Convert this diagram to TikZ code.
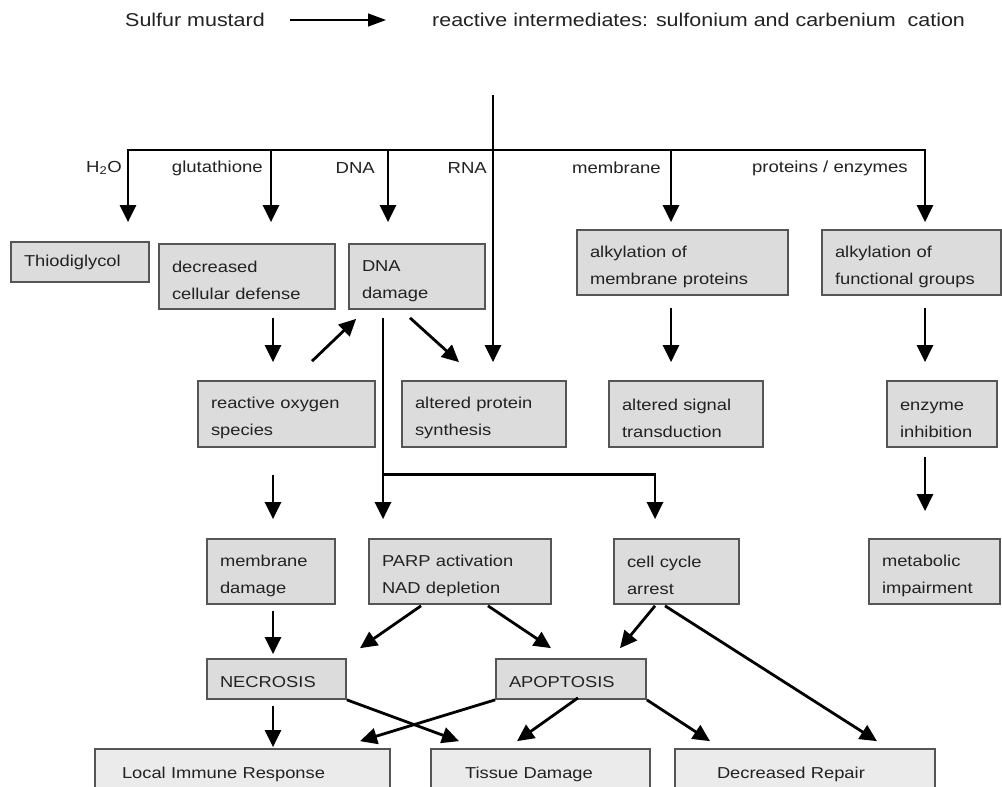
\documentclass[tikz,border=0pt]{standalone}
\usepackage{fontspec}
\setmainfont{Liberation Sans}[FakeStretch=1.16]
\usetikzlibrary{arrows.meta,calc}
\definecolor{boxfill}{HTML}{DCDCDC}
\definecolor{boxfillb}{HTML}{EBEBEB}
\definecolor{edge}{HTML}{555555}
\definecolor{ink}{HTML}{222222}
\newcommand\firstline{\rule{0pt}{19.5pt}}
\begin{document}
\begin{tikzpicture}[x=1pt,y=-1pt,
 box/.style={draw=edge,line width=1.7pt,fill=boxfill,inner xsep=13pt,inner ysep=0pt,align=left,text=ink,font=\fontsize{15.8}{27}\selectfont},
 arr/.style={line width=2.8pt,-{Triangle[length=17pt,width=16pt]},draw=black},
 lab/.style={anchor=east,inner sep=0pt,text=ink,font=\fontsize{16}{19}\selectfont},
 toptext/.style={anchor=west,inner sep=0pt,text=ink,font=\fontsize{18.5}{22}\selectfont}]
\clip (0,0) rectangle (1002,787);
\fill[white] (0,0) rectangle (1002,787);

% top line
\node[toptext] (sm) at (125,20) {Sulfur mustard};
\node[toptext] (ri) at (432,20) {reactive intermediates: sulfonium and carbenium\ \ cation};
\draw[line width=1.4pt,-{Triangle[length=18pt,width=13pt]},shorten <=25.5pt,shorten >=46pt] (sm.east) -- (ri.west);

% boxes
\node[box,text width=112pt,minimum height=40pt] (thio) at (80,262) {Thiodiglycol};
\node[box,text width=150pt,minimum height=65pt] (dcd) at (247,276.5) {\firstline decreased\\cellular defense};
\node[box,text width=110pt,minimum height=65pt] (dnad) at (417,276.5) {\firstline DNA\\damage};
\node[box,text width=185pt,minimum height=65pt] (amp) at (682.5,262.5) {\firstline alkylation of\\membrane proteins};
\node[box,text width=153pt,minimum height=65pt] (afg) at (911.5,262.5) {\firstline alkylation of\\functional groups};

\node[box,text width=151pt,minimum height=66pt] (ros) at (286.5,414) {\firstline reactive oxygen\\species};
\node[box,text width=138pt,minimum height=66pt] (aps) at (484,414) {\firstline altered protein\\synthesis};
\node[box,text width=128pt,minimum height=66pt] (ast) at (686,414) {\firstline altered signal\\transduction};
\node[box,text width=84pt,minimum height=66pt] (ei) at (942,414) {\firstline enzyme\\inhibition};

\node[box,text width=102pt,minimum height=65pt] (md) at (271,571.5) {\firstline membrane\\damage};
\node[box,text width=156pt,minimum height=65pt] (parp) at (460,571.5) {\firstline PARP activation\\NAD depletion};
\node[box,text width=99pt,minimum height=65pt] (cca) at (676.5,571.5) {\firstline cell cycle\\arrest};
\node[box,text width=105pt,minimum height=65pt] (mi) at (934.5,571.5) {\firstline metabolic\\impairment};

\node[box,text width=113pt,minimum height=40pt] (nec) at (276.5,679) {\rule{0pt}{17pt}NECROSIS};
\node[box,text width=124pt,minimum height=40pt] (apo) at (571,679) {\rule{0pt}{17pt}APOPTOSIS};

\node[box,fill=boxfillb,inner xsep=27pt,text width=241pt,minimum height=46pt] (lir) at (242.5,772) {\rule{0pt}{16pt}Local Immune Response};
\node[box,fill=boxfillb,inner xsep=34pt,text width=151pt,minimum height=46pt] (td) at (540.5,772) {\rule{0pt}{16pt}Tissue Damage};
\node[box,fill=boxfillb,inner xsep=42pt,text width=176pt,minimum height=46pt] (dr) at (805,772) {\rule{0pt}{16pt}Decreased Repair};

% branch labels
\node[lab] (lh) at (122,168) {H\textsubscript{2}O};
\node[lab] (lg) at (263,168) {glutathione};
\node[lab] (ld) at (375,168) {DNA};
\node[lab] (lr) at (487,168) {RNA};
\node[lab] (lm) at (661,168) {membrane};
\node[lab] (lp) at (908,168) {proteins / enzymes};

% distribution bar
\coordinate (stem) at (493,95);
\coordinate (bL) at (128,150);
\coordinate (bR) at (925,150);
\coordinate (bG) at (271,150);
\coordinate (bD) at (388,150);
\coordinate (bM) at (671,150);
\draw[line width=2.8pt,{Triangle[length=17pt,width=16pt]}-{Triangle[length=17pt,width=16pt]},shorten <=7pt,shorten >=19pt]
  (bR |- afg.north) -- (bR) -- (bL) -- (bL |- thio.north);
\draw[arr,shorten >=21pt] (bG) -- (bG |- dcd.north);
\draw[arr,shorten >=21pt] (bD) -- (bD |- dnad.north);
\draw[arr,shorten >=7pt] (bM) -- (bM |- amp.north);
\draw[arr,shorten >=18pt] (stem) -- (stem |- aps.north);

% second level
\coordinate (g2) at ([xshift=26pt]dcd.south);
\draw[arr,shorten <=8pt,shorten >=18pt] (g2) -- (g2 |- ros.north);
\draw[arr] ([xshift=25.5pt,yshift=19pt]ros.north) -- ([xshift=8pt,yshift=-9pt]dnad.south west);
\draw[arr] ([xshift=-7pt,yshift=-8pt]dnad.south) -- ([xshift=-25pt,yshift=18pt]aps.north);
\coordinate (dv) at ([xshift=-34pt]dnad.south);
\draw[arr,shorten <=8pt,shorten >=19pt] (dv) -- (dv |- parp.north);
\path (dv) ++(0,165) coordinate (split);
\coordinate (cc) at ([xshift=-21.5pt]cca.north);
\draw[arr,shorten >=19pt] (split) -| (cc);
\coordinate (am) at ([xshift=-11.5pt]amp.south);
\draw[arr,shorten <=12pt,shorten >=18pt] (am) -- (am |- ast.north);
\coordinate (af) at ([xshift=13.5pt]afg.south);
\draw[arr,shorten <=12pt,shorten >=18pt] (af) -- (af |- ei.north);

% third level
\coordinate (rs) at ([xshift=-13.5pt]ros.south);
\draw[arr,shorten <=27pt,shorten >=19pt] (rs) -- (rs |- md.north);
\coordinate (eb) at ([xshift=-17pt]ei.south);
\draw[arr,shorten <=9pt,shorten >=27pt] (eb) -- (eb |- mi.north);

% fourth level
\coordinate (mb) at ([xshift=2pt]md.south);
\draw[arr,shorten <=6pt,shorten >=4pt] (mb) -- (mb |- nec.north);
\draw[arr] ([xshift=-39pt,yshift=-1pt]parp.south) -- ([xshift=83.5pt,yshift=10pt]nec.north);
\draw[arr] ([xshift=28pt,yshift=-1pt]parp.south) -- ([xshift=-20pt,yshift=10pt]apo.north);
\draw[arr] ([xshift=-21.5pt,yshift=-1pt]cca.south) -- ([xshift=49pt,yshift=10pt]apo.north);
\draw[arr] ([xshift=-11.5pt,yshift=-1pt]cca.south) -- ([xshift=72pt,yshift=7pt]dr.north);

% bottom level
\coordinate (nb) at ([xshift=-3.5pt]nec.south);
\draw[arr,shorten <=6pt,shorten >=1pt] (nb) -- (nb |- lir.north);
\draw[arr] (nec.south east) -- ([xshift=-81.5pt,yshift=7pt]td.north);
\draw[arr] (apo.south west) -- ([xshift=117.5pt,yshift=7pt]lir.north);
\draw[arr] ([xshift=7pt,yshift=2pt]apo.south) -- ([xshift=-23.5pt,yshift=7pt]td.north);
\draw[arr] (apo.south east) -- ([xshift=-95pt,yshift=7pt]dr.north);
\end{tikzpicture}
\end{document}
